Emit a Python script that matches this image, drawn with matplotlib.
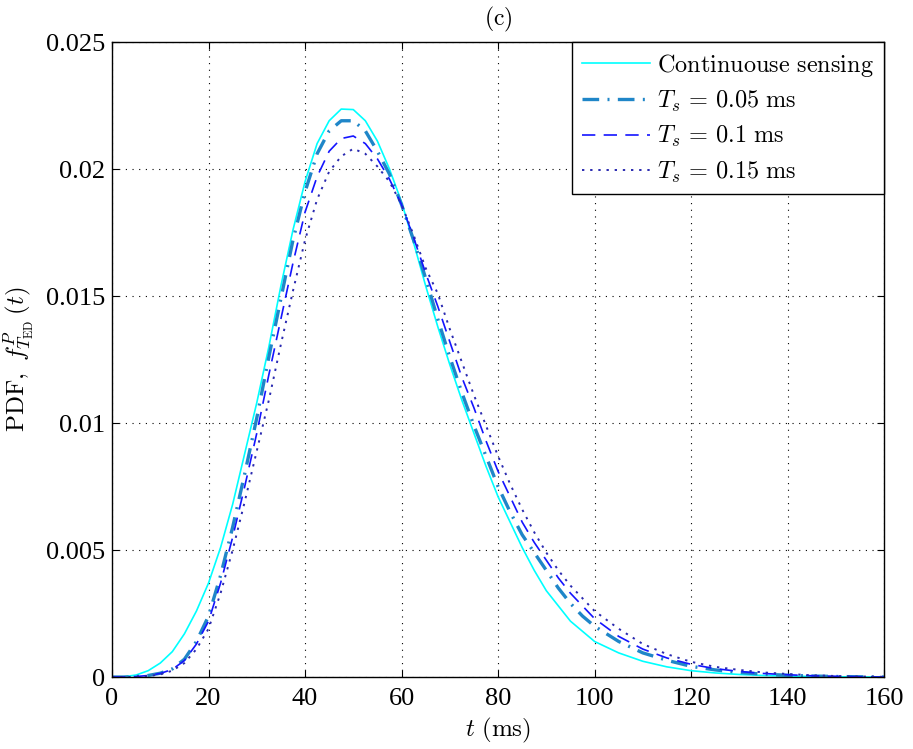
import numpy as np
import matplotlib
matplotlib.use('Agg')
import matplotlib.pyplot as plt

plt.rcParams['font.family'] = ['Liberation Serif', 'DejaVu Serif']
plt.rcParams['mathtext.fontset'] = 'cm'

# t (ms)
t = [0, 2.5, 5, 7.5, 10, 12.5, 15, 17.5, 20, 22.5, 25, 27.5, 30, 32.5, 35, 37.5,
     40, 42.5, 45, 47.5, 50, 52.5, 55, 57.5, 60, 62.5, 65, 67.5, 70, 72.5, 75,
     77.5, 80, 82.5, 85, 87.5, 90, 92.5, 95, 97.5, 100,
     105, 110, 115, 120, 125, 130, 135, 140, 145, 150, 155, 160]

# continuous sensing
pdf_cont = [0, 0.00001, 0.00008, 0.00025, 0.00055, 0.001, 0.0017, 0.0026, 0.0037,
            0.0051, 0.0068, 0.0088, 0.0108, 0.0130, 0.0154, 0.0176, 0.0195,
            0.0210, 0.0219, 0.02236, 0.02234, 0.0219, 0.0211, 0.0200, 0.0187,
            0.0171, 0.0154, 0.0138, 0.0123, 0.0109, 0.0096, 0.0083, 0.0071,
            0.0061, 0.0051, 0.0042, 0.0034, 0.0028, 0.0022, 0.0018, 0.0014,
            0.00095, 0.00062, 0.0004, 0.00025, 0.00016, 0.0001, 0.00006,
            0.00004, 0.00002, 0.00001, 0.000005, 0]

# Ts = 0.05 ms
pdf_005 = [0, 0, 0.00002, 0.00006, 0.00015, 0.00032, 0.0007, 0.0014, 0.0024,
           0.0040, 0.0059, 0.0080, 0.0102, 0.0126, 0.0149, 0.0172, 0.0191,
           0.0206, 0.0215, 0.0219, 0.0219, 0.0215, 0.0207, 0.0198, 0.0186,
           0.0172, 0.0157, 0.0141, 0.0126, 0.0112, 0.0099, 0.0087, 0.0075,
           0.0065, 0.0056, 0.0049, 0.0042, 0.0035, 0.0029, 0.0024, 0.0020,
           0.0014, 0.00095, 0.00066, 0.00042, 0.00028, 0.00018, 0.00011,
           0.00007, 0.00004, 0.00002, 0.00001, 0]

# Ts = 0.1 ms
pdf_01 = [0, 0, 0.00002, 0.00006, 0.00014, 0.0003, 0.00065, 0.0013, 0.0022,
          0.0037, 0.0055, 0.0075, 0.0096, 0.0119, 0.0141, 0.0163, 0.0183,
          0.0197, 0.0207, 0.0212, 0.0213, 0.0210, 0.0204, 0.0196, 0.0186,
          0.0173, 0.0159, 0.0146, 0.0132, 0.0118, 0.0106, 0.0093, 0.0081,
          0.0071, 0.0061, 0.0053, 0.0046, 0.0039, 0.0033, 0.0028, 0.0023,
          0.0016, 0.0011, 0.00075, 0.0005, 0.00033, 0.00022, 0.00014,
          0.00009, 0.00005, 0.00003, 0.00001, 0]

# Ts = 0.15 ms
pdf_015 = [0, 0, 0.00001, 0.00004, 0.0001, 0.00025, 0.00055, 0.0011, 0.0019,
           0.0033, 0.0050, 0.0069, 0.0089, 0.0109, 0.0131, 0.0152, 0.0172,
           0.0188, 0.0199, 0.0205, 0.0208, 0.0206, 0.0201, 0.0195, 0.0186,
           0.0174, 0.0161, 0.0151, 0.0137, 0.0124, 0.0111, 0.0099, 0.0087,
           0.0076, 0.0066, 0.0057, 0.0049, 0.0042, 0.0036, 0.0031, 0.0026,
           0.0019, 0.0013, 0.0009, 0.0006, 0.0004, 0.00028, 0.00018,
           0.00012, 0.00007, 0.00004, 0.00002, 0.00001]

fig = plt.figure(figsize=(9.13, 7.49), dpi=100)
ax = fig.add_axes([0.1227, 0.0961, 0.8456, 0.8478])

ax.plot(t, pdf_cont, '-', color='#00ffff', lw=1.2,
        label=r'$\mathrm{Continuouse\ sensing}$')
ax.plot(t, pdf_005, color='#1f86c8', lw=2.4, linestyle=(0, (5, 2.5, 0.6, 2.5)),
        label=r'$T_s\,=\,0.05\ \mathrm{ms}$')
ax.plot(t, pdf_01, color='#1414ff', lw=1.2, linestyle=(0, (8, 5)),
        label=r'$T_s\,=\,0.1\ \mathrm{ms}$')
ax.plot(t, pdf_015, color='#2a2ab0', lw=1.4, linestyle=(0, (1.2, 3)),
        label=r'$T_s\,=\,0.15\ \mathrm{ms}$')

ax.set_xlim(0, 160)
ax.set_ylim(0, 0.025)
ax.set_xticks(np.arange(0, 161, 20))
ax.set_yticks([0, 0.005, 0.01, 0.015, 0.02, 0.025])
ax.set_yticklabels(['0', '0.005', '0.01', '0.015', '0.02', '0.025'])
ax.tick_params(direction='in', top=True, right=True, labelsize=19, length=5)
ax.tick_params(axis='x', pad=8)
ax.tick_params(axis='y', pad=5)
ax.grid(True, linestyle=(0, (1, 5)), color='black', lw=0.8)
for s in ax.spines.values():
    s.set_linewidth(1.0)

ax.set_xlabel(r'$t\ \mathrm{(ms)}$', fontsize=18, labelpad=4)
ax.set_ylabel(r'$\mathrm{PDF},\ f^{P}_{T_{\mathrm{ED}}}\,(t)$', fontsize=18, labelpad=6)
ax.set_title(r'$\mathrm{(c)}$', fontsize=17, pad=12)

leg = ax.legend(loc='upper right', fontsize=17.5, borderaxespad=0, fancybox=False,
                edgecolor='black', framealpha=1, handlelength=2.8,
                labelspacing=0.42, borderpad=0.4, handletextpad=0.3)
leg.get_frame().set_linewidth(1.0)

fig.savefig('out.png', dpi=100)
